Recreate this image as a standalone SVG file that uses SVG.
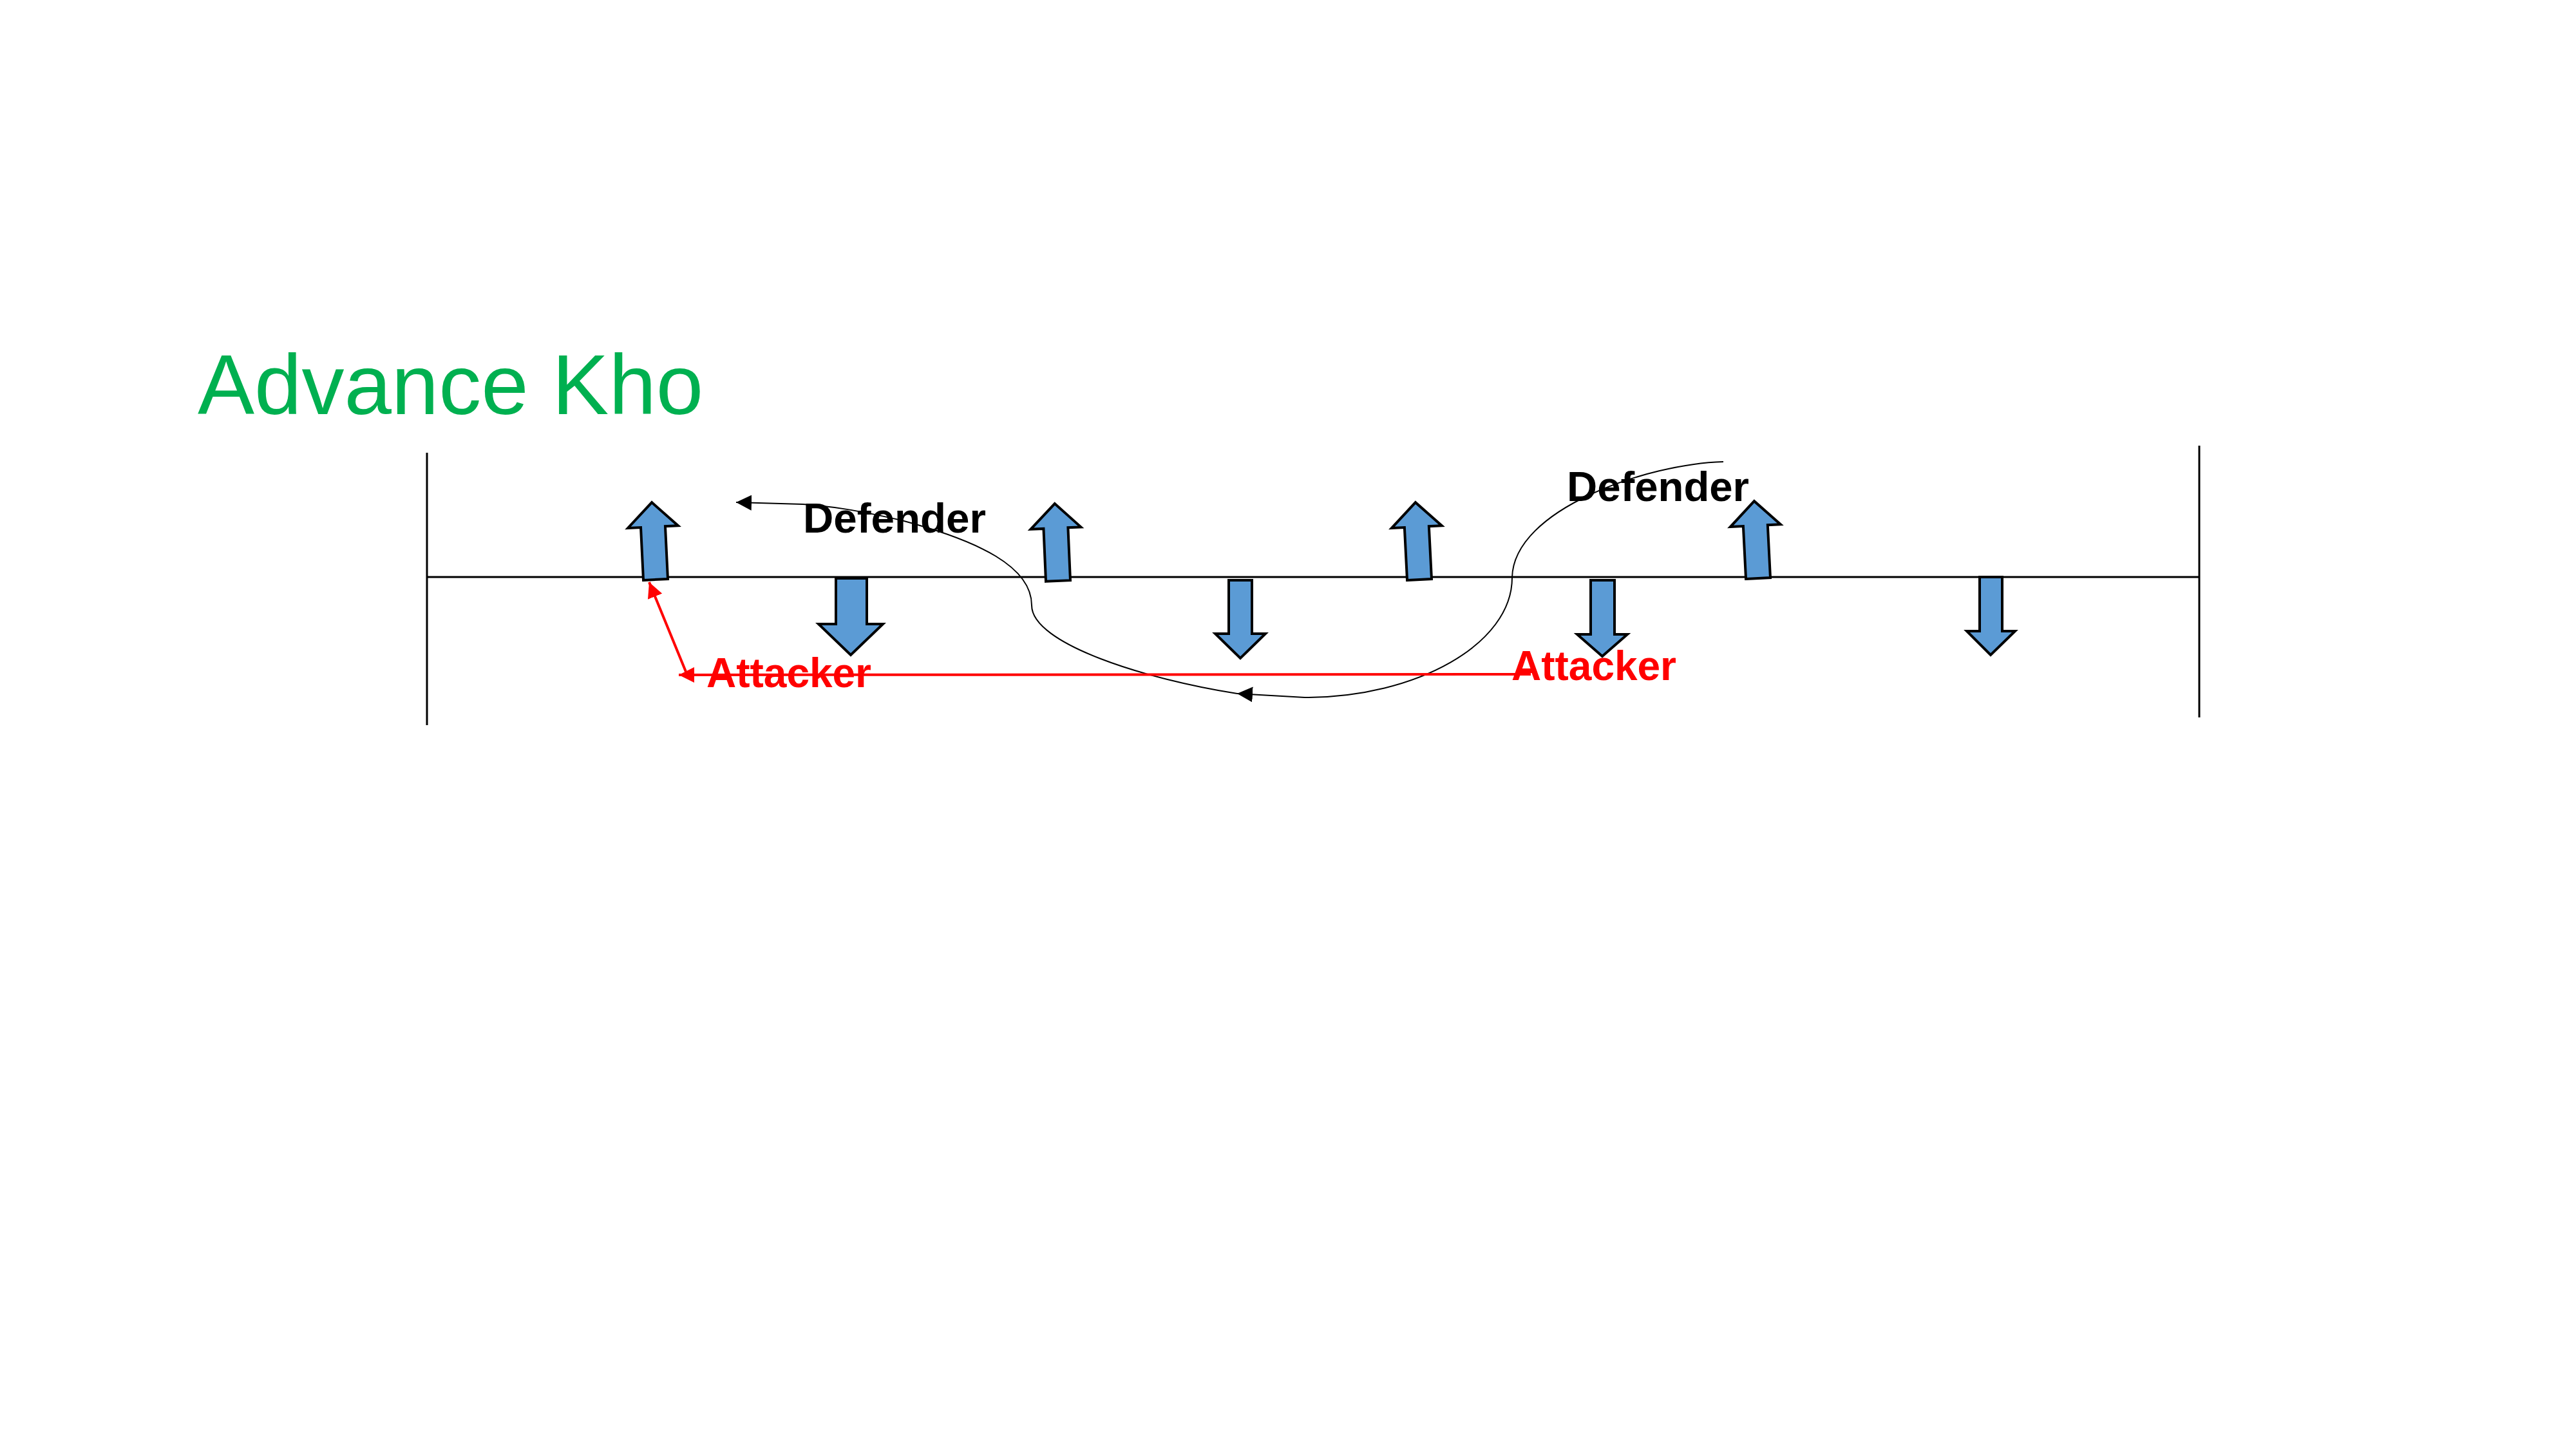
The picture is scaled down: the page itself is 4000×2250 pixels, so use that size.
<svg xmlns="http://www.w3.org/2000/svg" width="4000" height="2250" viewBox="0 0 4000 2250">
  <style>
    .frame { stroke: #000; stroke-width: 3; fill: none; }
    .blk { fill: #5B9BD5; stroke: #000; stroke-width: 4; stroke-linejoin: miter; }
    .def { font-family: "Liberation Sans", Arial, sans-serif; font-weight: bold; font-size: 64px; fill: #000; }
    .att { font-family: "Liberation Sans", Arial, sans-serif; font-weight: bold; font-size: 64px; fill: #FF0000; }
    .title { font-family: "Liberation Sans", Arial, sans-serif; font-size: 132px; fill: #00B050; }
    .path { stroke: #000; fill: none; stroke-width: 2; }
    .red { stroke: #FF0000; fill: none; stroke-width: 4; }
  </style>
  <defs>
    <marker id="ahBlack" viewBox="0 0 24 24" markerWidth="24" markerHeight="24" refX="24" refY="12" orient="auto" markerUnits="userSpaceOnUse">
      <path d="M0,0 L24,12 L0,24 z" fill="#000"/>
    </marker>
    <marker id="ahRed" viewBox="0 0 24 24" markerWidth="24" markerHeight="24" refX="24" refY="12" orient="auto" markerUnits="userSpaceOnUse">
      <path d="M0,0 L24,12 L0,24 z" fill="#FF0000"/>
    </marker>
    <polygon id="upArrow" points="-19,0 19,0 19,-82 39,-82 0,-120 -39,-82 -19,-82"/>
  </defs>
  <rect x="0" y="0" width="4000" height="2250" fill="#FFFFFF"/>

  <g id="title">
    <text class="title" x="307" y="643">Advance Kho</text>
  </g>

  <g id="field">
    <line class="frame" x1="663" y1="896" x2="3415" y2="896"/>
    <line class="frame" x1="663" y1="703" x2="663" y2="1126"/>
    <line class="frame" x1="3415" y1="692" x2="3415" y2="1114"/>
  </g>

  <g id="labels">
    <text id="defender1" class="def" x="1247" y="827" textLength="284" lengthAdjust="spacingAndGlyphs">Defender</text>
    <text id="defender2" class="def" x="2433" y="778" textLength="283" lengthAdjust="spacingAndGlyphs">Defender</text>
    <text id="attacker1" class="att" x="1097" y="1067" textLength="256" lengthAdjust="spacingAndGlyphs">Attacker</text>
    <text id="attacker2" class="att" x="2347" y="1056" textLength="256" lengthAdjust="spacingAndGlyphs">Attacker</text>
  </g>

  <g id="connectors">
    <path class="path" d="M2676,717 C2560,720 2350,790 2348,897 C2348,1000 2200,1083 2026,1083"/>
    <path class="path" stroke-width="4" d="M2026,1083 L1921,1077" marker-end="url(#ahBlack)"/>
    <path class="path" d="M1921,1077 C1780,1055 1602,1000 1602,940 C1602,880 1520,840 1400,808 C1330,792 1290,786 1247,783"/>
    <path class="path" stroke-width="3" d="M1247,783 L1143,780" marker-end="url(#ahBlack)"/>
    <path class="red" d="M2377,1047 L1054,1048" marker-end="url(#ahRed)"/>
    <path class="red" d="M1065,1043 L1008,904" marker-end="url(#ahRed)"/>
  </g>

  <g id="up1"><use href="#upArrow" class="blk" transform="translate(1018,900) rotate(-2.8)"/></g>
  <g id="up2"><use href="#upArrow" class="blk" transform="translate(1643,902) rotate(-2.5)"/></g>
  <g id="up3"><use href="#upArrow" class="blk" transform="translate(2204,900) rotate(-2.9)"/></g>
  <g id="up4"><use href="#upArrow" class="blk" transform="translate(2730,898) rotate(-2.9)"/></g>

  <g id="down1"><polygon class="blk" points="1298,898 1346,898 1346,969 1371,969 1321,1017 1271,969 1298,969"/></g>
  <g id="down2"><polygon class="blk" points="1908,901 1944,901 1944,984 1965,984 1926,1022 1887,984 1908,984"/></g>
  <g id="down3"><polygon class="blk" points="2470,901 2507,901 2507,985 2527,985 2488,1019 2449,985 2470,985"/></g>
  <g id="down4"><polygon class="blk" points="3074,896 3109,896 3109,980 3129,980 3091,1017 3054,980 3074,980"/></g>
</svg>
